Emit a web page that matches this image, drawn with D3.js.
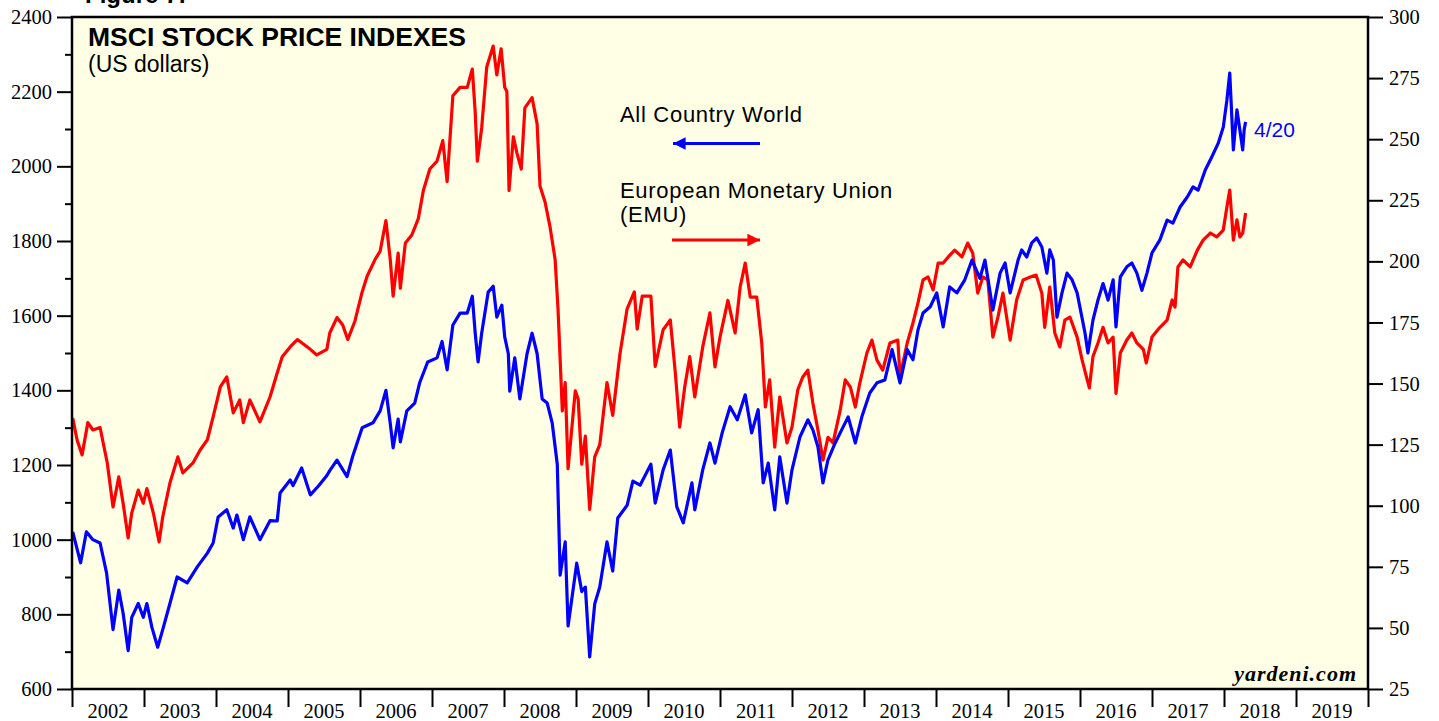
<!DOCTYPE html>
<html>
<head>
<meta charset="utf-8">
<script src="https://cdn.jsdelivr.net/npm/d3@7"></script>
<style>
  body { margin: 0; background: #fff; }
  svg { display: block; }
</style>
</head>
<body>
<script>
// Chart values: [decimal year, index level]
const acwi = [
  [2002.01,1021],[2002.12,938],[2002.20,1021],[2002.29,1000],[2002.39,991],[2002.48,911],[2002.57,759],
  [2002.65,865],[2002.71,803],[2002.78,703],[2002.83,792],[2002.92,829],[2002.99,792],[2003.04,829],
  [2003.11,765],[2003.19,712],[2003.26,759],[2003.36,829],[2003.46,900],[2003.60,884],[2003.74,927],
  [2003.88,964],[2003.96,991],[2004.03,1061],[2004.15,1080],[2004.24,1031],[2004.29,1066],[2004.38,1000],
  [2004.47,1061],[2004.61,1000],[2004.75,1051],[2004.85,1050],[2004.89,1125],[2005.03,1160],[2005.07,1145],
  [2005.19,1192],[2005.31,1120],[2005.42,1143],[2005.54,1172],[2005.58,1185],[2005.68,1213],[2005.82,1169],
  [2005.90,1224],[2006.03,1300],[2006.18,1313],[2006.28,1345],[2006.36,1400],[2006.42,1312],[2006.46,1246],
  [2006.53,1323],[2006.56,1262],[2006.65,1345],[2006.76,1366],[2006.83,1421],[2006.94,1476],[2007.07,1487],
  [2007.14,1531],[2007.21,1455],[2007.29,1575],[2007.39,1607],[2007.49,1607],[2007.56,1652],[2007.60,1553],
  [2007.64,1476],[2007.69,1553],[2007.78,1663],[2007.85,1679],[2007.90,1596],[2007.97,1628],[2008.01,1543],
  [2008.06,1498],[2008.08,1398],[2008.15,1487],[2008.22,1377],[2008.32,1498],[2008.39,1553],[2008.46,1498],
  [2008.53,1377],[2008.60,1366],[2008.67,1312],[2008.74,1202],[2008.78,905],[2008.85,994],[2008.89,769],
  [2009.01,937],[2009.08,861],[2009.13,873],[2009.19,686],[2009.26,828],[2009.33,873],[2009.43,994],
  [2009.51,916],[2009.58,1058],[2009.71,1092],[2009.79,1157],[2009.89,1146],[2010.04,1202],[2010.10,1098],
  [2010.21,1187],[2010.31,1240],[2010.40,1088],[2010.49,1045],[2010.61,1152],[2010.65,1080],[2010.76,1187],
  [2010.86,1259],[2010.93,1205],[2011.03,1286],[2011.14,1356],[2011.24,1321],[2011.35,1388],[2011.44,1286],
  [2011.53,1348],[2011.60,1152],[2011.67,1205],[2011.76,1080],[2011.83,1222],[2011.93,1098],[2012.00,1187],
  [2012.11,1275],[2012.22,1321],[2012.29,1294],[2012.36,1249],[2012.43,1152],[2012.50,1214],[2012.60,1259],
  [2012.69,1294],[2012.78,1329],[2012.88,1259],[2012.97,1329],[2013.08,1393],[2013.18,1420],[2013.29,1428],
  [2013.39,1509],[2013.50,1420],[2013.60,1509],[2013.68,1482],[2013.75,1562],[2013.82,1607],[2013.92,1624],
  [2014.01,1661],[2014.10,1570],[2014.19,1677],[2014.29,1661],[2014.40,1696],[2014.50,1749],[2014.61,1700],
  [2014.68,1749],[2014.79,1615],[2014.89,1714],[2014.96,1741],[2015.03,1661],[2015.14,1749],[2015.19,1776],
  [2015.26,1757],[2015.33,1795],[2015.40,1808],[2015.47,1784],[2015.54,1714],[2015.58,1776],[2015.63,1749],
  [2015.68,1596],[2015.75,1661],[2015.82,1714],[2015.89,1696],[2015.96,1661],[2016.07,1553],[2016.11,1500],
  [2016.18,1588],[2016.25,1642],[2016.32,1686],[2016.39,1642],[2016.46,1696],[2016.50,1570],[2016.56,1704],
  [2016.65,1731],[2016.72,1741],[2016.79,1714],[2016.86,1668],[2016.93,1714],[2017.00,1768],[2017.11,1803],
  [2017.21,1856],[2017.29,1848],[2017.39,1891],[2017.49,1918],[2017.57,1945],[2017.64,1936],[2017.74,1990],
  [2017.83,2025],[2017.92,2062],[2017.99,2105],[2018.04,2177],[2018.08,2250],[2018.13,2044],[2018.18,2151],
  [2018.22,2098],[2018.26,2044],[2018.28,2098],[2018.30,2119]
];

const emu = [
  [2002.01,135.9],[2002.07,127],[2002.14,120.8],[2002.22,134],[2002.29,131],[2002.39,132],[2002.49,117.5],
  [2002.57,99.5],[2002.65,111.8],[2002.71,101],[2002.78,86.8],[2002.83,97],[2002.92,106.4],[2002.99,101],
  [2003.04,107],[2003.13,97],[2003.21,85.2],[2003.26,95.4],[2003.36,109.3],[2003.47,120],[2003.54,113.4],
  [2003.68,117.5],[2003.78,122.8],[2003.88,127],[2003.96,136.4],[2004.06,148.6],[2004.15,152.7],[2004.24,138],
  [2004.33,143.3],[2004.38,134],[2004.47,143.3],[2004.61,134.3],[2004.75,144.5],[2004.85,154.3],[2004.92,161],
  [2005.03,165],[2005.13,168],[2005.31,164],[2005.40,161.7],[2005.54,164],[2005.58,170.7],[2005.68,177],
  [2005.76,174],[2005.83,168],[2005.93,175.6],[2006.03,187.5],[2006.10,194],[2006.21,200.8],[2006.28,204.2],
  [2006.36,216.7],[2006.42,200.8],[2006.46,185.8],[2006.53,203.4],[2006.56,189],[2006.63,207.5],[2006.72,210.8],
  [2006.81,217.5],[2006.88,229],[2006.97,237.8],[2007.07,241],[2007.15,249.4],[2007.21,232.6],[2007.29,267.8],
  [2007.39,271.2],[2007.49,271.2],[2007.56,278.7],[2007.60,261.1],[2007.63,241],[2007.69,254.6],[2007.76,279.5],
  [2007.85,288.1],[2007.90,276.3],[2007.96,287],[2008.01,271.2],[2008.04,269.5],[2008.07,229],[2008.13,251],
  [2008.18,244.3],[2008.24,237.8],[2008.29,262.8],[2008.39,267],[2008.46,256.2],[2008.50,230.8],[2008.57,224.3],
  [2008.64,214],[2008.71,200.8],[2008.75,180.6],[2008.81,138.8],[2008.85,150.4],[2008.89,115.2],[2008.99,147],
  [2009.03,143.7],[2009.08,117],[2009.13,128.5],[2009.19,98.5],[2009.26,120],[2009.33,125],[2009.43,150.4],
  [2009.51,137],[2009.61,162],[2009.71,180.6],[2009.81,187.5],[2009.85,172.3],[2009.92,185.8],[2010.04,185.8],
  [2010.10,157],[2010.21,172],[2010.31,176],[2010.38,154.3],[2010.44,132.2],[2010.51,148.6],[2010.58,161],
  [2010.65,144.5],[2010.76,165],[2010.86,178.9],[2010.93,156.8],[2011.00,169],[2011.11,184],[2011.21,170.7],
  [2011.28,189.5],[2011.35,199.3],[2011.42,185.4],[2011.51,185.4],[2011.58,166.6],[2011.63,140.4],[2011.69,151.5],
  [2011.76,124],[2011.83,144.5],[2011.93,125.7],[2012.00,132.2],[2012.08,147.4],[2012.15,152.7],[2012.22,155.5],
  [2012.29,142],[2012.36,131],[2012.43,118.7],[2012.50,128],[2012.57,125.7],[2012.67,139.2],[2012.74,151.5],
  [2012.81,148.6],[2012.88,140.4],[2012.94,150],[2013.04,162.5],[2013.11,167.8],[2013.18,159.6],[2013.26,155.5],
  [2013.36,166.6],[2013.47,167.8],[2013.50,152.7],[2013.60,166.6],[2013.68,174.8],[2013.75,183],[2013.82,192.4],
  [2013.89,193.6],[2013.96,188.3],[2014.03,199.3],[2014.10,199.3],[2014.17,201.8],[2014.26,204.6],[2014.36,201.8],
  [2014.44,207.5],[2014.51,203.4],[2014.58,187],[2014.65,193.6],[2014.72,192.4],[2014.79,169],[2014.86,177.2],
  [2014.93,187],[2015.03,167.8],[2015.12,184.2],[2015.21,192.4],[2015.31,193.6],[2015.39,194.4],[2015.47,187],
  [2015.51,173],[2015.58,189.5],[2015.65,170.7],[2015.72,165],[2015.79,176],[2015.86,177.2],[2015.96,169],
  [2016.03,159.6],[2016.10,151.5],[2016.13,148.2],[2016.18,161],[2016.25,166.6],[2016.32,173],[2016.39,166.6],
  [2016.46,169],[2016.50,146],[2016.56,162.5],[2016.65,167.8],[2016.72,170.7],[2016.79,166.6],[2016.88,164],
  [2016.92,158.4],[2017.00,169],[2017.11,173],[2017.21,176],[2017.28,184.2],[2017.32,181.3],[2017.36,197.7],
  [2017.43,200.6],[2017.53,197.7],[2017.63,204.6],[2017.71,208.7],[2017.81,211.6],[2017.90,210],[2017.99,212.8],
  [2018.04,222.2],[2018.08,229.2],[2018.13,208.7],[2018.18,217],[2018.22,210],[2018.26,211.6],[2018.30,219.8]
];

const years = d3.range(2002, 2020);          // year labels
const leftTicks = d3.range(600, 2401, 200);  // labelled ticks, left axis
const leftMinor = d3.range(700, 2400, 200);  // unlabelled ticks, left axis
const rightTicks = d3.range(25, 301, 25);    // right axis

const width = 1439, height = 721;
const margin = { top: 17, right: 71, bottom: 32, left: 72 };
const iw = width - margin.left - margin.right;
const ih = height - margin.top - margin.bottom;

const svg = d3.select("body").append("svg")
    .attr("width", width)
    .attr("height", height);

const x = d3.scaleLinear().domain([2002, 2020]).range([margin.left, margin.left + iw]);
const yL = d3.scaleLinear().domain([600, 2400]).range([margin.top + ih, margin.top]);
const yR = d3.scaleLinear().domain([25, 300]).range([margin.top + ih, margin.top]);

// plot background
svg.append("rect")
    .attr("x", margin.left).attr("y", margin.top)
    .attr("width", iw).attr("height", ih)
    .attr("fill", "#ffffe5");

// lines
const lineL = d3.line().x(d => x(d[0])).y(d => yL(d[1]));
const lineR = d3.line().x(d => x(d[0])).y(d => yR(d[1]));

svg.append("path").datum(emu)
    .attr("d", lineR)
    .attr("fill", "none")
    .attr("stroke", "#ff0000")
    .attr("stroke-width", 3.2)
    .attr("stroke-linejoin", "round");

svg.append("path").datum(acwi)
    .attr("d", lineL)
    .attr("fill", "none")
    .attr("stroke", "#0000ff")
    .attr("stroke-width", 3.2)
    .attr("stroke-linejoin", "round");

// frame
svg.append("rect")
    .attr("x", margin.left).attr("y", margin.top)
    .attr("width", iw).attr("height", ih)
    .attr("fill", "none")
    .attr("stroke", "#000")
    .attr("stroke-width", 2.5);

// axes
const serif = "'Liberation Serif', 'Times New Roman', serif";
function styleAxis(g) {
  g.select(".domain").remove();
  g.selectAll(".tick line").attr("stroke", "#000").attr("stroke-width", 2);
  g.selectAll(".tick text").attr("font-family", serif).attr("font-size", 20.5).attr("fill", "#000");
}

svg.append("g")
    .attr("transform", `translate(${margin.left},0)`)
    .call(d3.axisLeft(yL).tickValues(leftTicks).tickSize(15).tickPadding(5).tickFormat(d3.format("d")))
    .call(styleAxis);

svg.append("g")
    .attr("transform", `translate(${margin.left},0)`)
    .call(d3.axisLeft(yL).tickValues(leftMinor).tickSize(7).tickFormat(""))
    .call(styleAxis);

svg.append("g")
    .attr("transform", `translate(${margin.left + iw},0)`)
    .call(d3.axisRight(yR).tickValues(rightTicks).tickSize(15).tickPadding(6))
    .call(styleAxis);

svg.append("g")
    .attr("transform", `translate(0,${margin.top + ih})`)
    .call(d3.axisBottom(x).tickValues(d3.range(2002, 2021)).tickSize(18).tickFormat(""))
    .call(styleAxis);

svg.append("g").selectAll("text")
    .data(years)
    .join("text")
    .attr("x", d => x(d + 0.5))
    .attr("y", 718)
    .attr("text-anchor", "middle")
    .attr("font-family", serif)
    .attr("font-size", 20.5)
    .text(d => d);

// titles and notes
const sans = "'Liberation Sans', Arial, Helvetica, sans-serif";
svg.append("text")
    .attr("x", 85).attr("y", 3)
    .attr("font-family", sans).attr("font-weight", "bold").attr("font-size", 24)
    .text("Figure 7:");

svg.append("text")
    .attr("x", 88).attr("y", 46)
    .attr("font-family", sans).attr("font-weight", "bold").attr("font-size", 26.5)
    .text("MSCI STOCK PRICE INDEXES");

svg.append("text")
    .attr("x", 88).attr("y", 72)
    .attr("font-family", sans).attr("font-size", 23)
    .text("(US dollars)");

// legend
svg.append("defs").selectAll("marker")
    .data([["headBlue", "#0000ff"], ["headRed", "#ff0000"]])
    .join("marker")
    .attr("id", d => d[0])
    .attr("viewBox", "0 0 10 10")
    .attr("refX", 10).attr("refY", 5)
    .attr("markerWidth", 8).attr("markerHeight", 4.2)
    .attr("markerUnits", "strokeWidth")
    .attr("orient", "auto")
    .append("path")
    .attr("d", "M0,0 L10,5 L0,10 z")
    .attr("fill", d => d[1]);

svg.append("text")
    .attr("x", 620).attr("y", 122)
    .attr("font-family", sans).attr("font-size", 22).attr("letter-spacing", 0.7)
    .text("All Country World");

svg.append("line")
    .attr("x1", 760).attr("y1", 143.5).attr("x2", 673).attr("y2", 143.5)
    .attr("stroke", "#0000ff").attr("stroke-width", 3)
    .attr("marker-end", "url(#headBlue)");

svg.append("text")
    .attr("x", 620).attr("y", 198)
    .attr("font-family", sans).attr("font-size", 22).attr("letter-spacing", 0.7)
    .text("European Monetary Union");

svg.append("text")
    .attr("x", 620).attr("y", 222)
    .attr("font-family", sans).attr("font-size", 22).attr("letter-spacing", 0.7)
    .text("(EMU)");

svg.append("line")
    .attr("x1", 672).attr("y1", 240).attr("x2", 760).attr("y2", 240)
    .attr("stroke", "#ff0000").attr("stroke-width", 3)
    .attr("marker-end", "url(#headRed)");

svg.append("text")
    .attr("x", 1254).attr("y", 137)
    .attr("font-family", sans).attr("font-size", 21)
    .attr("fill", "#0000ff")
    .text("4/20");

svg.append("text")
    .attr("x", 1357).attr("y", 681)
    .attr("text-anchor", "end")
    .attr("font-family", serif).attr("font-weight", "bold").attr("font-style", "italic")
    .attr("font-size", 22).attr("letter-spacing", 1)
    .text("yardeni.com");
</script>
</body>
</html>
